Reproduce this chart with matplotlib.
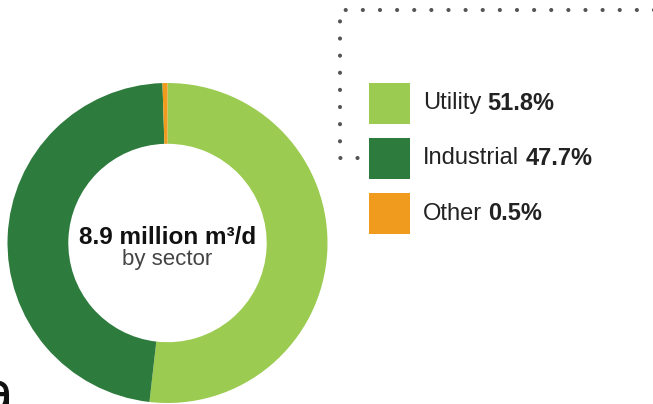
import matplotlib.pyplot as plt
from matplotlib.patches import Rectangle

# data
sectors = ['Utility', 'Industrial', 'Other']
shares = [51.8, 47.7, 0.5]
colors = ['#9BCB50', '#2E7B3E', '#F09A1E']
center_title = '8.9 million m³/d'
center_sub = 'by sector'

W, H = 653, 404
plt.rcParams['font.family'] = ['Liberation Sans', 'DejaVu Sans']

fig = plt.figure(figsize=(W / 100, H / 100), dpi=100)
ax = fig.add_axes([0, 0, 1, 1])

cx, cy, r = 167.5, H - 243, 160
ax.pie(shares, colors=colors, startangle=90, counterclock=False,
       center=(cx, cy), radius=r,
       wedgeprops=dict(width=r * 0.38, linewidth=0))

ax.set_xlim(0, W)
ax.set_ylim(0, H)
ax.set_aspect('equal')
ax.axis('off')

# centre label
ax.text(cx, H - 237, center_title, ha='center', va='center',
        fontsize=17.5, fontweight='bold', color='#111111')
ax.text(cx, H - 259, center_sub, ha='center', va='center',
        fontsize=16, color='#444444')

# dotted connector
ax.plot([W + 5, 340, 340, 360], [H - 10, H - 10, H - 158, H - 158],
        color='#555555', linewidth=3, linestyle=(0, (0.01, 4.1)),
        dash_capstyle='round', solid_joinstyle='round')

# legend
box_x, box_s = 369, 41
box_tops = [83, 138, 193]
fig.canvas.draw()
for name, val, col, top in zip(sectors, shares, colors, box_tops):
    ax.add_patch(Rectangle((box_x, H - top - box_s), box_s, box_s,
                           facecolor=col, edgecolor='none'))
    t = ax.text(423, H - top - box_s / 2, name, ha='left', va='center',
                fontsize=17, color='#222222')
    bb = t.get_window_extent(renderer=fig.canvas.get_renderer())
    ax.text(bb.x1 + 6, H - top - box_s / 2, f'{val}%', ha='left', va='center',
            fontsize=17, fontweight='bold', color='#222222')

# cropped letter at bottom-left
fig.text(14 / W, -7 / H, 'a', ha='right', va='baseline',
         fontsize=40, color='#111111', family='DejaVu Sans')

fig.savefig('out.png', dpi=100)
